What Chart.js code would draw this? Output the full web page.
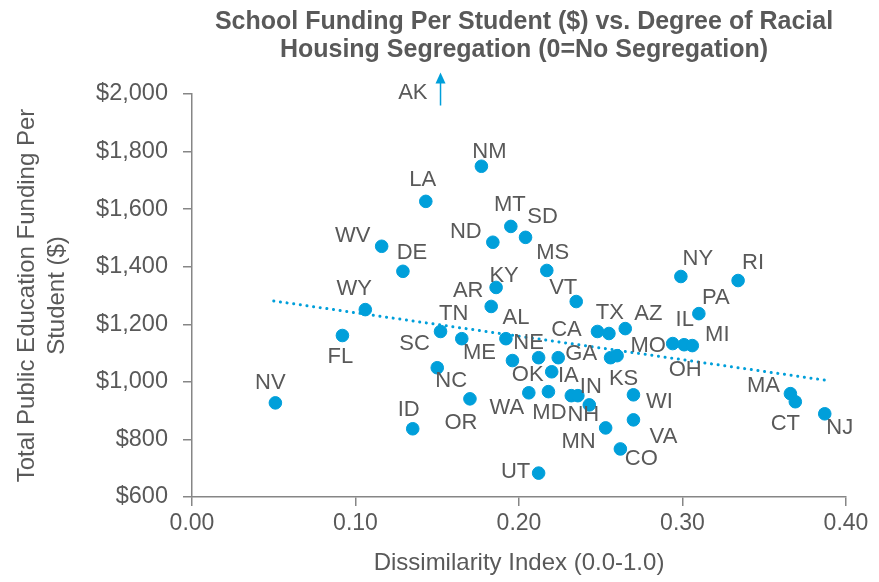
<!DOCTYPE html>
<html>
<head>
<meta charset="utf-8">
<script src="https://cdn.jsdelivr.net/npm/chart.js@4.4.1/dist/chart.umd.min.js"></script>
<style>
  html, body { margin: 0; padding: 0; background: #fff; }
  #wrap { width: 879px; height: 582px; }
</style>
</head>
<body>
<div id="wrap"><canvas id="segChart" width="879" height="582"></canvas></div>
<script>
// data
const states = ['NV','FL','WY','WV','DE','LA','ID','SC','TN','NC','OR','NM','ND','MT','SD','KY','AR','AL',
  'ME','NE','GA','OK','WA','MD','IA','IN','NH','MS','VT','CA','TX','AZ','KS','MO','WI','VA','MN','CO','UT',
  'NY','RI','PA','IL','OH','MI','MA','CT','NJ'];
const dissimilarity = [0.051,0.092,0.106,0.116,0.129,0.143,0.135,0.152,0.165,0.150,0.170,0.177,0.184,0.195,0.204,0.186,0.183,0.192,
  0.196,0.212,0.224,0.220,0.206,0.218,0.232,0.236,0.243,0.217,0.235,0.248,0.255,0.265,0.256,0.260,0.270,0.270,0.253,0.262,0.212,
  0.299,0.334,0.310,0.294,0.301,0.306,0.366,0.369,0.387];
const funding = [927,1161,1251,1471,1384,1627,837,1175,1150,1049,941,1749,1485,1540,1502,1328,1262,1150,
  1074,1084,1084,1035,962,966,952,952,920,1387,1279,1175,1168,1185,1084,1091,955,868,840,767,683,
  1366,1352,1237,1133,1129,1126,959,931,889];

// Alaska sits above the axis maximum, shown with an arrow
const akDissimilarity = 0.152;

// dotted linear trend line end points
const trendX = [0.05, 0.387];
const trendY = [1281, 1006];

const xTicks = [0, 0.1, 0.2, 0.3, 0.4];
const yTicks = [600, 800, 1000, 1200, 1400, 1600, 1800, 2000];

// where each state label sits relative to its dot (px)
const labelOffset = {
  NV:[-5,-20], FL:[-2,21], WY:[-11,-21], WV:[-29,-10], DE:[9,-18], LA:[-3,-21], ID:[-4,-19],
  SC:[-26,12], TN:[-8,-25], NC:[14,13], OR:[-9,24], NM:[8,-14], ND:[-27,-10], MT:[-1,-21],
  SD:[17,-20], KY:[8,-12], AR:[-23,-16], AL:[10,-21], ME:[-33,-8], NE:[-10,-15], GA:[23,-4],
  OK:[-24,3], WA:[-22,15], MD:[1,21], IA:[-3,-20], IN:[13,-9], NH:[-6,10], MS:[6,-18], VT:[-13,-14],
  CA:[-31,-2], TX:[1,-21], AZ:[23,-15], KS:[13,21], MO:[31,-10], WI:[26,7], VA:[30,17], MN:[-27,14],
  CO:[21,10], UT:[-23,-1], NY:[17,-18], RI:[15,-18], PA:[17,-16], IL:[12,-24], OH:[1,25], MI:[25,-11],
  MA:[-27,-8], CT:[-10,22], NJ:[15,14]
};

const blue = '#009fda';
const grey = '#595959';
const axisGrey = '#868686';
const font = "'Liberation Sans', Arial, sans-serif";

const points = states.map((s, i) => ({ x: dissimilarity[i], y: funding[i] }));
const trend = trendX.map((x, i) => ({ x: x, y: trendY[i] }));

const overlay = {
  id: 'overlay',
  afterDatasetsDraw(chart) {
    const ctx = chart.ctx;
    const meta = chart.getDatasetMeta(0);
    ctx.save();
    ctx.fillStyle = grey;
    ctx.font = '22px ' + font;
    ctx.textAlign = 'center';
    ctx.textBaseline = 'middle';
    meta.data.forEach((pt, i) => {
      const off = labelOffset[states[i]] || [0, -20];
      ctx.fillText(states[i], pt.x + off[0], pt.y + off[1]);
    });

    // AK arrow
    const xs = chart.scales.x, ys = chart.scales.y;
    const ax = xs.getPixelForValue(akDissimilarity);
    const base = ys.getPixelForValue(1960);
    const tip = base - 33;
    ctx.strokeStyle = blue;
    ctx.fillStyle = blue;
    ctx.lineWidth = 1.5;
    ctx.beginPath();
    ctx.moveTo(ax, base);
    ctx.lineTo(ax, tip + 10);
    ctx.stroke();
    ctx.beginPath();
    ctx.moveTo(ax, tip);
    ctx.lineTo(ax - 5, tip + 11);
    ctx.lineTo(ax + 5, tip + 11);
    ctx.closePath();
    ctx.fill();
    ctx.fillStyle = grey;
    ctx.textAlign = 'right';
    ctx.fillText('AK', ax - 13, tip + 20);

    // chart title, centred over the plot area
    const cx = (chart.chartArea.left + chart.chartArea.right) / 2 + 5;
    ctx.font = "bold 25px 'Liberation Sans', Arial, sans-serif";
    ctx.textAlign = 'center';
    ctx.fillText('School Funding Per Student ($) vs. Degree of Racial', cx, 22);
    ctx.fillText('Housing Segregation (0=No Segregation)', cx, 50);
    ctx.restore();
  }
};

new Chart(document.getElementById('segChart'), {
  type: 'scatter',
  data: {
    datasets: [{
      label: 'States',
      data: points,
      backgroundColor: blue,
      borderColor: blue,
      pointRadius: 6.3,
      pointHoverRadius: 6.3,
      order: 1
    }, {
      label: 'Trend',
      type: 'line',
      data: trend,
      borderColor: blue,
      borderWidth: 3,
      borderDash: [0.1, 6.6],
      borderCapStyle: 'round',
      pointRadius: 0,
      fill: false,
      order: 2
    }]
  },
  options: {
    responsive: false,
    animation: false,
    layout: { padding: { top: 94, right: 33, left: 4, bottom: 4 } },
    plugins: {
      legend: { display: false },
      tooltip: { enabled: false }
    },
    scales: {
      x: {
        type: 'linear',
        min: 0,
        max: 0.4,
        afterBuildTicks: axis => { axis.ticks = xTicks.map(v => ({ value: v })); },
        afterFit: axis => { axis.height = 81; },
        ticks: {
          color: grey,
          font: { family: font, size: 23 },
          padding: 4,
          callback: v => v.toFixed(2)
        },
        grid: { drawOnChartArea: false, color: axisGrey, tickLength: 9, lineWidth: 1.5 },
        border: { color: axisGrey, width: 1.5 },
        title: {
          display: true,
          text: 'Dissimilarity Index (0.0-1.0)',
          color: grey,
          font: { family: font, size: 24 },
          padding: { top: 4, bottom: 0 }
        }
      },
      y: {
        type: 'linear',
        min: 600,
        max: 2000,
        afterBuildTicks: axis => { axis.ticks = yTicks.map(v => ({ value: v })); },
        afterFit: axis => { axis.width = 188; },
        ticks: {
          color: grey,
          font: { family: font, size: 23.5 },
          padding: 15,
          callback: v => '$' + v.toLocaleString('en-US')
        },
        grid: { drawOnChartArea: false, color: axisGrey, tickLength: 9, lineWidth: 1.5 },
        border: { color: axisGrey, width: 1.5 },
        title: {
          display: true,
          text: ['Total Public Education Funding Per', 'Student ($)'],
          color: grey,
          font: { family: font, size: 24, lineHeight: 1.25 },
          padding: { top: 8, bottom: 0 }
        }
      }
    }
  },
  plugins: [overlay]
});
</script>
</body>
</html>
